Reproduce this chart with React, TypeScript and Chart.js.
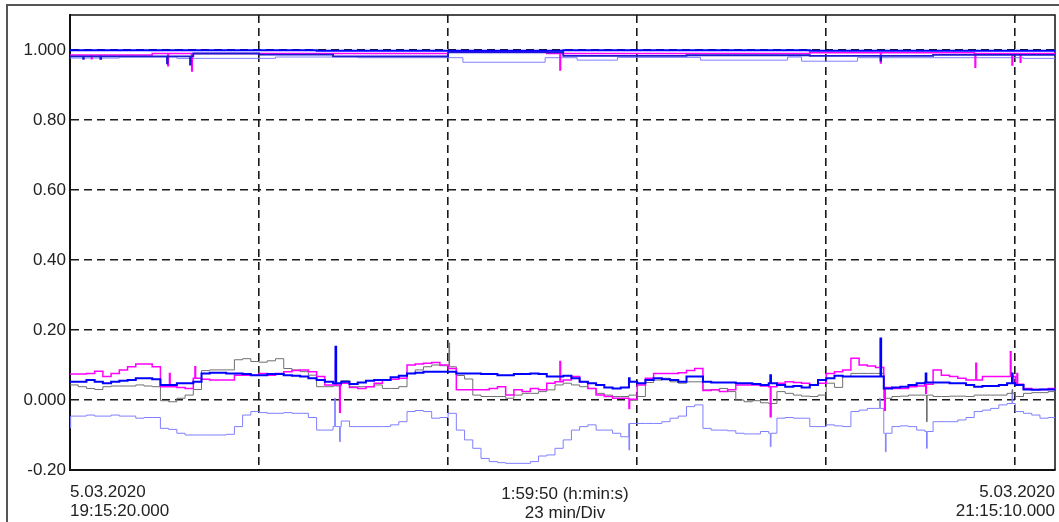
import React, { useEffect, useRef } from "react";
import { Chart, registerables } from "chart.js";

Chart.register(...registerables);

// ---- axis / labels ----
const END_MIN = 119.83; // 1:59:50 span
const X_GRID = [0, 23, 46, 69, 92, 115]; // 23 min/Div
const Y_TICKS = [-0.2, 0, 0.2, 0.4, 0.6, 0.8, 1.0];
const Y_TICK_LABELS = ["-0.20", "0.000", "0.20", "0.40", "0.60", "0.80", "1.000"];
const START_LABEL = ["5.03.2020", "19:15:20.000"];
const MID_LABEL = ["1:59:50 (h:min:s)", "23 min/Div"];
const END_LABEL = ["5.03.2020", "21:15:10.000"];

// ---- lower group: one sample per minute ----
const MINUTES = Array.from({ length: 120 }, (_, i) => i);

const MAGENTA_LOW = [
  0.074, 0.074, 0.076, 0.082, 0.067, 0.076, 0.086, 0.095, 0.103, 0.103,
  0.095, 0.038, 0.038, 0.036, 0.033, 0.062, 0.059, 0.057, 0.057, 0.057,
  0.071, 0.071, 0.071, 0.076, 0.071, 0.076, 0.081, 0.084, 0.086, 0.081,
  0.067, 0.043, 0.043, 0.048, 0.036, 0.033, 0.038, 0.048, 0.057, 0.059,
  0.062, 0.100, 0.103, 0.105, 0.107, 0.100, 0.090, 0.029, 0.029, 0.029,
  0.029, 0.033, 0.038, 0.014, 0.029, 0.024, 0.033, 0.029, 0.048, 0.052,
  0.057, 0.067, 0.052, 0.033, 0.014, 0.010, 0.005, 0.005, 0.002, 0.043,
  0.062, 0.076, 0.076, 0.076, 0.078, 0.084, 0.090, 0.027, 0.029, 0.024,
  0.029, 0.043, 0.043, 0.043, 0.040, 0.038, 0.048, 0.052, 0.050, 0.048,
  0.043, 0.048, 0.076, 0.081, 0.086, 0.119, 0.100, 0.097, 0.093, 0.036,
  0.033, 0.033, 0.038, 0.040, 0.045, 0.086, 0.071, 0.067, 0.062, 0.057,
  0.057, 0.067, 0.067, 0.067, 0.067, 0.045, 0.033, 0.030, 0.030, 0.033,
];
const BLUE_LOW = [
  0.052, 0.052, 0.057, 0.052, 0.048, 0.052, 0.055, 0.057, 0.062, 0.062,
  0.059, 0.043, 0.043, 0.048, 0.048, 0.052, 0.076, 0.078, 0.078, 0.076,
  0.076, 0.074, 0.071, 0.071, 0.074, 0.074, 0.071, 0.069, 0.067, 0.062,
  0.057, 0.052, 0.048, 0.052, 0.046, 0.050, 0.055, 0.057, 0.057, 0.065,
  0.069, 0.076, 0.078, 0.081, 0.081, 0.081, 0.081, 0.076, 0.076, 0.076,
  0.074, 0.074, 0.071, 0.071, 0.074, 0.074, 0.076, 0.074, 0.067, 0.067,
  0.069, 0.062, 0.052, 0.048, 0.043, 0.036, 0.033, 0.036, 0.052, 0.048,
  0.057, 0.062, 0.059, 0.057, 0.052, 0.067, 0.067, 0.052, 0.050, 0.050,
  0.050, 0.048, 0.048, 0.046, 0.043, 0.048, 0.043, 0.038, 0.040, 0.036,
  0.043, 0.057, 0.062, 0.069, 0.067, 0.067, 0.067, 0.067, 0.067, 0.033,
  0.036, 0.038, 0.043, 0.048, 0.050, 0.050, 0.050, 0.048, 0.048, 0.043,
  0.038, 0.040, 0.040, 0.043, 0.048, 0.043, 0.030, 0.029, 0.030, 0.030,
];
const GRAY_LOW = [
  0.043, 0.038, 0.033, 0.030, 0.038, 0.040, 0.040, 0.040, 0.043, 0.040,
  0.038, -0.002, -0.005, 0.005, 0.014, 0.030, 0.084, 0.086, 0.086, 0.086,
  0.115, 0.118, 0.110, 0.108, 0.112, 0.118, 0.090, 0.086, 0.081, 0.071,
  0.038, 0.038, 0.040, 0.055, 0.038, 0.038, 0.038, 0.043, 0.033, 0.033,
  0.038, 0.076, 0.086, 0.095, 0.100, 0.098, 0.095, 0.070, 0.060, 0.014,
  0.010, 0.010, 0.010, 0.005, 0.014, 0.019, 0.019, 0.024, 0.029, 0.043,
  0.048, 0.043, 0.038, 0.033, 0.019, 0.014, 0.010, 0.010, 0.014, 0.010,
  0.050, 0.057, 0.062, 0.052, 0.048, 0.052, 0.052, 0.029, 0.029, 0.033,
  0.024, 0.000, -0.005, -0.002, -0.008, -0.010, 0.024, 0.019, 0.014, 0.011,
  0.010, 0.014, 0.048, 0.036, 0.067, 0.076, 0.076, 0.076, 0.076, 0.005,
  0.010, 0.011, 0.014, 0.014, 0.014, 0.010, 0.010, 0.011, 0.011, 0.010,
  0.014, 0.014, 0.014, 0.014, 0.019, 0.010, 0.019, 0.021, 0.021, 0.024,
];
const LIGHTBLUE_LOW = [
  -0.046, -0.046, -0.043, -0.046, -0.046, -0.043, -0.046, -0.046, -0.052, -0.050,
  -0.050, -0.081, -0.084, -0.095, -0.100, -0.100, -0.100, -0.100, -0.100, -0.098,
  -0.076, -0.043, -0.033, -0.036, -0.038, -0.038, -0.036, -0.038, -0.038, -0.050,
  -0.086, -0.086, -0.076, -0.060, -0.076, -0.076, -0.076, -0.076, -0.076, -0.071,
  -0.062, -0.033, -0.030, -0.033, -0.052, -0.050, -0.038, -0.086, -0.114, -0.138,
  -0.167, -0.176, -0.179, -0.181, -0.181, -0.181, -0.176, -0.160, -0.157, -0.138,
  -0.114, -0.086, -0.076, -0.071, -0.086, -0.086, -0.095, -0.105, -0.067, -0.067,
  -0.067, -0.067, -0.062, -0.052, -0.046, -0.019, -0.014, -0.081, -0.086, -0.086,
  -0.088, -0.095, -0.097, -0.097, -0.090, -0.095, -0.052, -0.050, -0.052, -0.052,
  -0.076, -0.076, -0.071, -0.074, -0.076, -0.033, -0.029, -0.024, -0.024, -0.095,
  -0.076, -0.074, -0.076, -0.086, -0.090, -0.062, -0.062, -0.062, -0.057, -0.050,
  -0.033, -0.029, -0.024, -0.014, -0.010, -0.033, -0.038, -0.043, -0.052, -0.050,
];

// short spikes [minute, value]
const MAGENTA_LOW_SPIKES = [
  [12.1, 0.076], [15.2, 0.095], [32.3, 0.11], [32.8, -0.035], [59.6, 0.11],
  [68.0, -0.024], [85.2, -0.048], [98.6, 0.171], [99.1, -0.029], [104.1, 0.019],
  [110.2, 0.105], [114.4, 0.138], [115.2, 0.076],
];
const BLUE_LOW_SPIKES = [
  [32.3, 0.152], [68.0, 0.062], [85.2, 0.071], [98.6, 0.176], [104.1, 0.076], [114.6, 0.076],
];
const GRAY_LOW_SPIKES = [
  [32.3, 0.152], [46.1, 0.163], [85.2, -0.048], [98.6, 0.12], [104.2, -0.062], [114.6, 0.03],
];
const LIGHTBLUE_LOW_SPIKES = [
  [0.0, -0.08], [32.2, 0.005], [32.8, -0.119], [68.0, -0.143], [85.2, -0.133],
  [98.5, 0.005], [99.2, -0.148], [104.2, -0.138], [114.6, 0.024],
];

// ---- upper group (near 1.0): step change points ----
const PF_TOP_T = [0, 30, 60, 90];
const PF_TOP_V = [0.999, 0.998, 0.999, 0.998];
const PF_BLUE_T = [0, 15, 23, 32, 46, 60, 75, 90, 105];
const PF_BLUE_V = [0.982, 0.99, 0.987, 0.982, 0.993, 0.983, 0.985, 0.983, 0.986];
const PF_BLUE_SPIKES = [[1.6, 0.975], [3.7, 0.975], [11.8, 0.962], [14.6, 0.958], [98.6, 0.97]];
const PF_MAGENTA_T = [0, 10, 25, 46, 58, 70, 90, 110];
const PF_MAGENTA_V = [0.986, 0.99, 0.99, 0.995, 0.99, 0.99, 0.992, 0.99];
const PF_MAGENTA_SPIKES = [
  [2.6, 0.975], [3.7, 0.975], [11.9, 0.955], [14.8, 0.94], [59.6, 0.943],
  [98.6, 0.963], [110.1, 0.951], [114.6, 0.957], [115.6, 0.965],
];
const PF_LIGHT_T = [0, 6, 13, 25, 35, 47.8, 57.8, 61.7, 66.6, 76.7, 87.3, 89, 95.8, 116];
const PF_LIGHT_V = [0.977, 0.98, 0.976, 0.98, 0.978, 0.965, 0.978, 0.971, 0.979, 0.971, 0.98, 0.968, 0.978, 0.976];

type P = { x: number; y: number };

function buildPoints(times: number[], values: number[], spikes: number[][] = []): P[] {
  const pts: P[] = times.map((t, i) => ({ x: t, y: values[i] }));
  for (const [t, v] of spikes) {
    let idx = 0;
    for (let i = 0; i < times.length; i++) if (times[i] <= t) idx = i;
    pts.push({ x: t, y: v });
    pts.push({ x: t + 0.08, y: values[idx] });
  }
  pts.sort((a, b) => a.x - b.x);
  pts.push({ x: END_MIN, y: values[values.length - 1] });
  return pts;
}

const FONT = '"Liberation Sans", Arial, Helvetica, sans-serif';

export default function App() {
  const ref = useRef<HTMLCanvasElement | null>(null);

  useEffect(() => {
    if (!ref.current) return;
    const framePlugin = {
      id: "frame",
      beforeDatasetsDraw(chart: any) {
        const { ctx, chartArea } = chart;
        const { left, top, right, bottom } = chartArea;
        ctx.save();
        ctx.strokeStyle = "#111";
        ctx.lineWidth = 1.5;
        ctx.setLineDash([]);
        ctx.beginPath();
        ctx.moveTo(left, top);
        ctx.lineTo(right, top);
        ctx.lineTo(right, bottom);
        ctx.stroke();
        ctx.restore();
      },
    };

    const mk = (label: string, data: P[], color: string, width: number, order: number) => ({
      label,
      data,
      borderColor: color,
      backgroundColor: color,
      borderWidth: width,
      pointRadius: 0,
      stepped: "before" as const,
      fill: false,
      order,
    });

    const chart = new Chart(ref.current, {
      type: "line",
      data: {
        datasets: [
          mk("PF top", buildPoints(PF_TOP_T, PF_TOP_V), "#0000ff", 2, 0),
          mk("PF blue", buildPoints(PF_BLUE_T, PF_BLUE_V, PF_BLUE_SPIKES), "#1a1ad0", 1.8, 1),
          mk("PF magenta", buildPoints(PF_MAGENTA_T, PF_MAGENTA_V, PF_MAGENTA_SPIKES), "#ff00ff", 1.5, 2),
          mk("PF light", buildPoints(PF_LIGHT_T, PF_LIGHT_V), "#8080ff", 1, 3),
          mk("Blue", buildPoints(MINUTES, BLUE_LOW, BLUE_LOW_SPIKES), "#0000ff", 2, 4),
          mk("Magenta", buildPoints(MINUTES, MAGENTA_LOW, MAGENTA_LOW_SPIKES), "#ff00ff", 1.5, 5),
          mk("Gray", buildPoints(MINUTES, GRAY_LOW, GRAY_LOW_SPIKES), "#707070", 1, 6),
          mk("Light blue", buildPoints(MINUTES, LIGHTBLUE_LOW, LIGHTBLUE_LOW_SPIKES), "#7f7fff", 1, 7),
        ],
      },
      options: {
        animation: false,
        responsive: false,
        events: [],
        layout: { padding: { top: 15, right: 4, left: 0, bottom: 0 } },
        plugins: { legend: { display: false }, tooltip: { enabled: false } },
        scales: {
          x: {
            type: "linear",
            min: 0,
            max: END_MIN,
            afterBuildTicks: (s: any) => {
              s.ticks = X_GRID.map((v) => ({ value: v }));
            },
            afterFit: (s: any) => {
              s.height = 52;
            },
            ticks: { display: false },
            grid: { color: "#1a1a1a", lineWidth: 1.6, drawTicks: false },
            border: { display: true, color: "#111", width: 2, dash: [8, 5] },
          },
          y: {
            type: "linear",
            min: -0.2,
            max: 1.1,
            afterBuildTicks: (s: any) => {
              s.ticks = Y_TICKS.map((v) => ({ value: v }));
            },
            afterFit: (s: any) => {
              s.width = 70;
            },
            ticks: {
              padding: 4,
              color: "#222",
              font: { family: FONT, size: 17 },
              callback: (_v: any, i: number) => Y_TICK_LABELS[i],
            },
            grid: { color: "#1a1a1a", lineWidth: 1.6, drawTicks: false },
            border: { display: true, color: "#111", width: 2, dash: [8, 5] },
          },
        },
      },
      plugins: [framePlugin],
    });
    return () => chart.destroy();
  }, []);

  const textStyle: React.CSSProperties = {
    position: "absolute",
    top: 482,
    fontFamily: FONT,
    fontSize: 17,
    lineHeight: "19px",
    color: "#222",
    whiteSpace: "nowrap",
  };

  return (
    <div
      style={{
        position: "fixed",
        left: 0,
        top: 0,
        width: 1059,
        height: 522,
        overflow: "hidden",
        background: "#fff",
      }}
    >
      <div
        style={{
          position: "absolute",
          left: 6,
          top: 4,
          width: 1200,
          height: 700,
          borderLeft: "2px solid #555",
          borderTop: "2px solid #555",
        }}
      />
      <canvas
        ref={ref}
        width={1059}
        height={522}
        style={{ position: "absolute", left: 0, top: 0, width: 1059, height: 522 }}
      />
      <div style={{ ...textStyle, left: 70, textAlign: "left" }}>
        {START_LABEL[0]}
        <br />
        {START_LABEL[1]}
      </div>
      <div style={{ ...textStyle, left: 465, width: 200, textAlign: "center", top: 484 }}>
        {MID_LABEL[0]}
        <br />
        {MID_LABEL[1]}
      </div>
      <div style={{ ...textStyle, right: 4, textAlign: "right" }}>
        {END_LABEL[0]}
        <br />
        {END_LABEL[1]}
      </div>
    </div>
  );
}
